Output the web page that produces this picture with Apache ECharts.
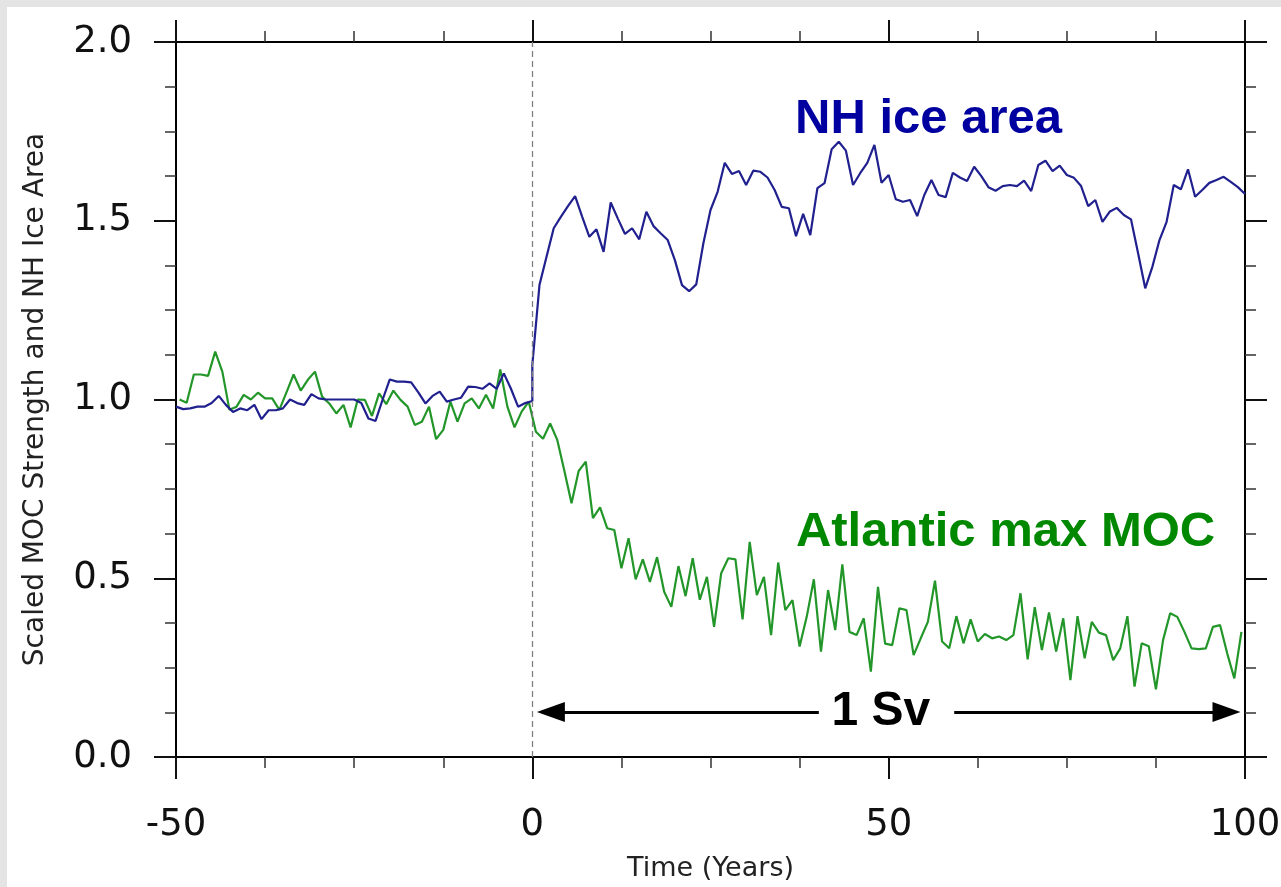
<!DOCTYPE html>
<html>
<head>
<meta charset="utf-8">
<script src="https://cdn.jsdelivr.net/npm/echarts@6/dist/echarts.min.js"></script>
<style>
  html, body { margin: 0; padding: 0; background: #e4e4e4; overflow: hidden; }
  #frame { position: absolute; left: 7px; top: 7px; width: 1274px; height: 880px; background: #ffffff; }
  #chart { width: 1274px; height: 880px; }
</style>
</head>
<body>
<div id="frame"><div id="chart"></div></div>
<script>
// NH sea-ice area (scaled), control years -50..0 then perturbed run 0..100
const iceControl = [
  0.98, 0.973, 0.975, 0.98, 0.98, 0.99, 1.01, 0.985, 0.965, 0.975,
  0.97, 0.985, 0.945, 0.97, 0.97, 0.975, 1.0, 0.99, 0.985, 1.015,
  1.003, 1.0, 1.0, 1.0, 1.0, 1.0, 0.99, 0.947, 0.94, 1.0,
  1.056, 1.05, 1.05, 1.048, 1.02, 0.989, 1.01, 1.022, 0.994, 1.0,
  1.005, 1.036, 1.035, 1.03, 1.045, 1.03, 1.073, 1.03, 0.98, 0.99, 0.996
];
const iceRun = [
  1.097, 1.32, 1.40, 1.479, 1.511, 1.541, 1.569, 1.511, 1.455, 1.476,
  1.413, 1.551, 1.506, 1.463, 1.479, 1.448, 1.525, 1.485, 1.465, 1.446,
  1.39, 1.32, 1.303, 1.322, 1.437, 1.53, 1.581, 1.662, 1.631, 1.639,
  1.60, 1.64, 1.637, 1.621, 1.586, 1.539, 1.535, 1.457, 1.519, 1.46,
  1.591, 1.605, 1.70, 1.721, 1.696, 1.60, 1.633, 1.662, 1.712, 1.606,
  1.628, 1.56, 1.553, 1.558, 1.513, 1.572, 1.614, 1.572, 1.566, 1.634,
  1.621, 1.611, 1.651, 1.625, 1.594, 1.584, 1.597, 1.60, 1.597, 1.612,
  1.583, 1.656, 1.668, 1.639, 1.654, 1.628, 1.62, 1.597, 1.541, 1.558,
  1.497, 1.525, 1.536, 1.516, 1.504, 1.409, 1.311, 1.371, 1.446, 1.497,
  1.60, 1.588, 1.644, 1.567, 1.586, 1.606, 1.614, 1.623, 1.609, 1.594, 1.575
];
// Atlantic max MOC (scaled), annual means at mid-year, -49.5 .. 99.5
const mocValues = [
  1.0, 0.991, 1.07, 1.07, 1.066, 1.134, 1.078, 0.971, 0.98, 1.013,
  1.0, 1.019, 1.003, 1.003, 0.971, 1.02, 1.07, 1.025, 1.055, 1.078,
  1.008, 0.989, 0.961, 0.985, 0.922, 1.0, 0.999, 0.954, 1.017, 0.987,
  1.025, 0.999, 0.98, 0.929, 0.938, 0.98, 0.889, 0.915, 0.994, 0.938,
  0.989, 1.003, 0.975, 1.013, 0.975, 1.084, 0.98, 0.922, 0.966, 0.994,
  0.91, 0.89, 0.933, 0.887, 0.80, 0.71, 0.80, 0.826, 0.668, 0.698,
  0.64, 0.635, 0.528, 0.612, 0.497, 0.553, 0.49, 0.559, 0.462, 0.42,
  0.534, 0.45, 0.556, 0.44, 0.504, 0.364, 0.514, 0.556, 0.553, 0.385,
  0.602, 0.453, 0.504, 0.341, 0.544, 0.411, 0.439, 0.309, 0.392, 0.497,
  0.295, 0.467, 0.355, 0.539, 0.35, 0.341, 0.388, 0.239, 0.476, 0.317,
  0.313, 0.416, 0.411, 0.285, 0.332, 0.378, 0.493, 0.323, 0.304, 0.394,
  0.318, 0.385, 0.323, 0.344, 0.332, 0.337, 0.327, 0.341, 0.458, 0.273,
  0.419, 0.299, 0.404, 0.295, 0.388, 0.215, 0.394, 0.276, 0.378, 0.348,
  0.341, 0.271, 0.304, 0.394, 0.197, 0.318, 0.31, 0.189, 0.327, 0.402,
  0.392, 0.35, 0.304, 0.302, 0.304, 0.364, 0.369, 0.29, 0.22, 0.35
];
const xTicks = [-50, 0, 50, 100];
const yTicks = [0.0, 0.5, 1.0, 1.5, 2.0];
const arrowLevel = 0.126;

const icePairs = [];
iceControl.forEach((v, i) => icePairs.push([-50 + i, v]));
iceRun.forEach((v, i) => icePairs.push([i, v]));
const mocPairs = mocValues.map((v, i) => [-49.5 + i, v]);

const tickFont = { fontFamily: 'DejaVu Sans', fontSize: 37, color: '#111' };
const majorTick = { show: true, inside: false, length: 22, lineStyle: { color: '#111', width: 2 } };
const minorTick = { show: true, splitNumber: 4, length: 11, lineStyle: { color: '#333', width: 1.5 } };
const axisLine = { show: true, onZero: false, lineStyle: { color: '#000', width: 2 } };

function xAxisCfg(pos, showLabels) {
  return {
    type: 'value', position: pos, min: xTicks[0], max: xTicks[xTicks.length - 1], interval: 50,
    axisLine: axisLine, axisTick: majorTick, minorTick: minorTick,
    splitLine: { show: false },
    axisLabel: Object.assign({ show: showLabels, margin: 50 }, tickFont)
  };
}
function yAxisCfg(pos, showLabels) {
  return {
    type: 'value', position: pos, min: yTicks[0], max: yTicks[yTicks.length - 1], interval: 0.5,
    axisLine: axisLine, axisTick: majorTick, minorTick: minorTick,
    splitLine: { show: false },
    axisLabel: Object.assign({ show: showLabels, margin: 44, formatter: v => v.toFixed(1) }, tickFont)
  };
}

const bottomX = xAxisCfg('bottom', true);
bottomX.name = 'Time (Years)';
bottomX.nameLocation = 'middle';
bottomX.nameGap = 98;
bottomX.nameTextStyle = { fontFamily: 'DejaVu Sans', fontSize: 27, color: '#222' };

const leftY = yAxisCfg('left', true);
leftY.name = 'Scaled MOC Strength and NH Ice Area';
leftY.nameLocation = 'middle';
leftY.nameGap = 126;
leftY.nameTextStyle = { fontFamily: 'DejaVu Sans', fontSize: 28, color: '#222' };

const chart = echarts.init(document.getElementById('chart'), null, { renderer: 'canvas' });
chart.setOption({
  animation: false,
  grid: { left: 169, right: 36, top: 35, bottom: 130, containLabel: false, outerBoundsMode: 'none' },
  xAxis: [bottomX, xAxisCfg('top', false)],
  yAxis: [leftY, yAxisCfg('right', false)],
  series: [
    {
      name: 'NH ice area', type: 'line', xAxisIndex: 0, yAxisIndex: 0,
      data: icePairs, showSymbol: false, symbol: 'none', z: 3,
      lineStyle: { color: '#20208f', width: 2.2 },
      markLine: {
        silent: true, symbol: 'none', label: { show: false },
        lineStyle: { color: '#808080', type: [6, 4], width: 1.3 },
        data: [{ xAxis: 0 }]
      }
    },
    {
      name: 'Atlantic max MOC', type: 'line', xAxisIndex: 0, yAxisIndex: 0,
      data: mocPairs, showSymbol: false, symbol: 'none', z: 2,
      lineStyle: { color: '#23962a', width: 2.2 },
      markLine: {
        silent: true, label: { show: false },
        lineStyle: { color: '#000', type: 'solid', width: 3 },
        data: [
          [{ coord: [2.6, arrowLevel], symbol: 'triangle', symbolSize: [20, 28] },
           { coord: [40.2, arrowLevel], symbol: 'none' }],
          [{ coord: [59.2, arrowLevel], symbol: 'none' },
           { coord: [97.4, arrowLevel], symbol: 'triangle', symbolSize: [20, 28] }]
        ]
      }
    },
    {
      name: 'labels', type: 'scatter', xAxisIndex: 0, yAxisIndex: 0,
      symbolSize: 2, itemStyle: { color: 'transparent', opacity: 1 }, silent: true, z: 5,
      data: [
        { value: [55.6, 1.782], label: { formatter: 'NH ice area', color: '#0000a0' } },
        { value: [66.4, 0.629], label: { formatter: 'Atlantic max MOC', color: '#008800' } },
        { value: [48.9, arrowLevel], label: { formatter: '1 Sv', color: '#000000', fontSize: 48 } }
      ],
      label: {
        show: true, position: 'inside', opacity: 1,
        fontFamily: 'Liberation Sans', fontWeight: 'bold', fontSize: 49
      }
    }
  ]
});
</script>
</body>
</html>
